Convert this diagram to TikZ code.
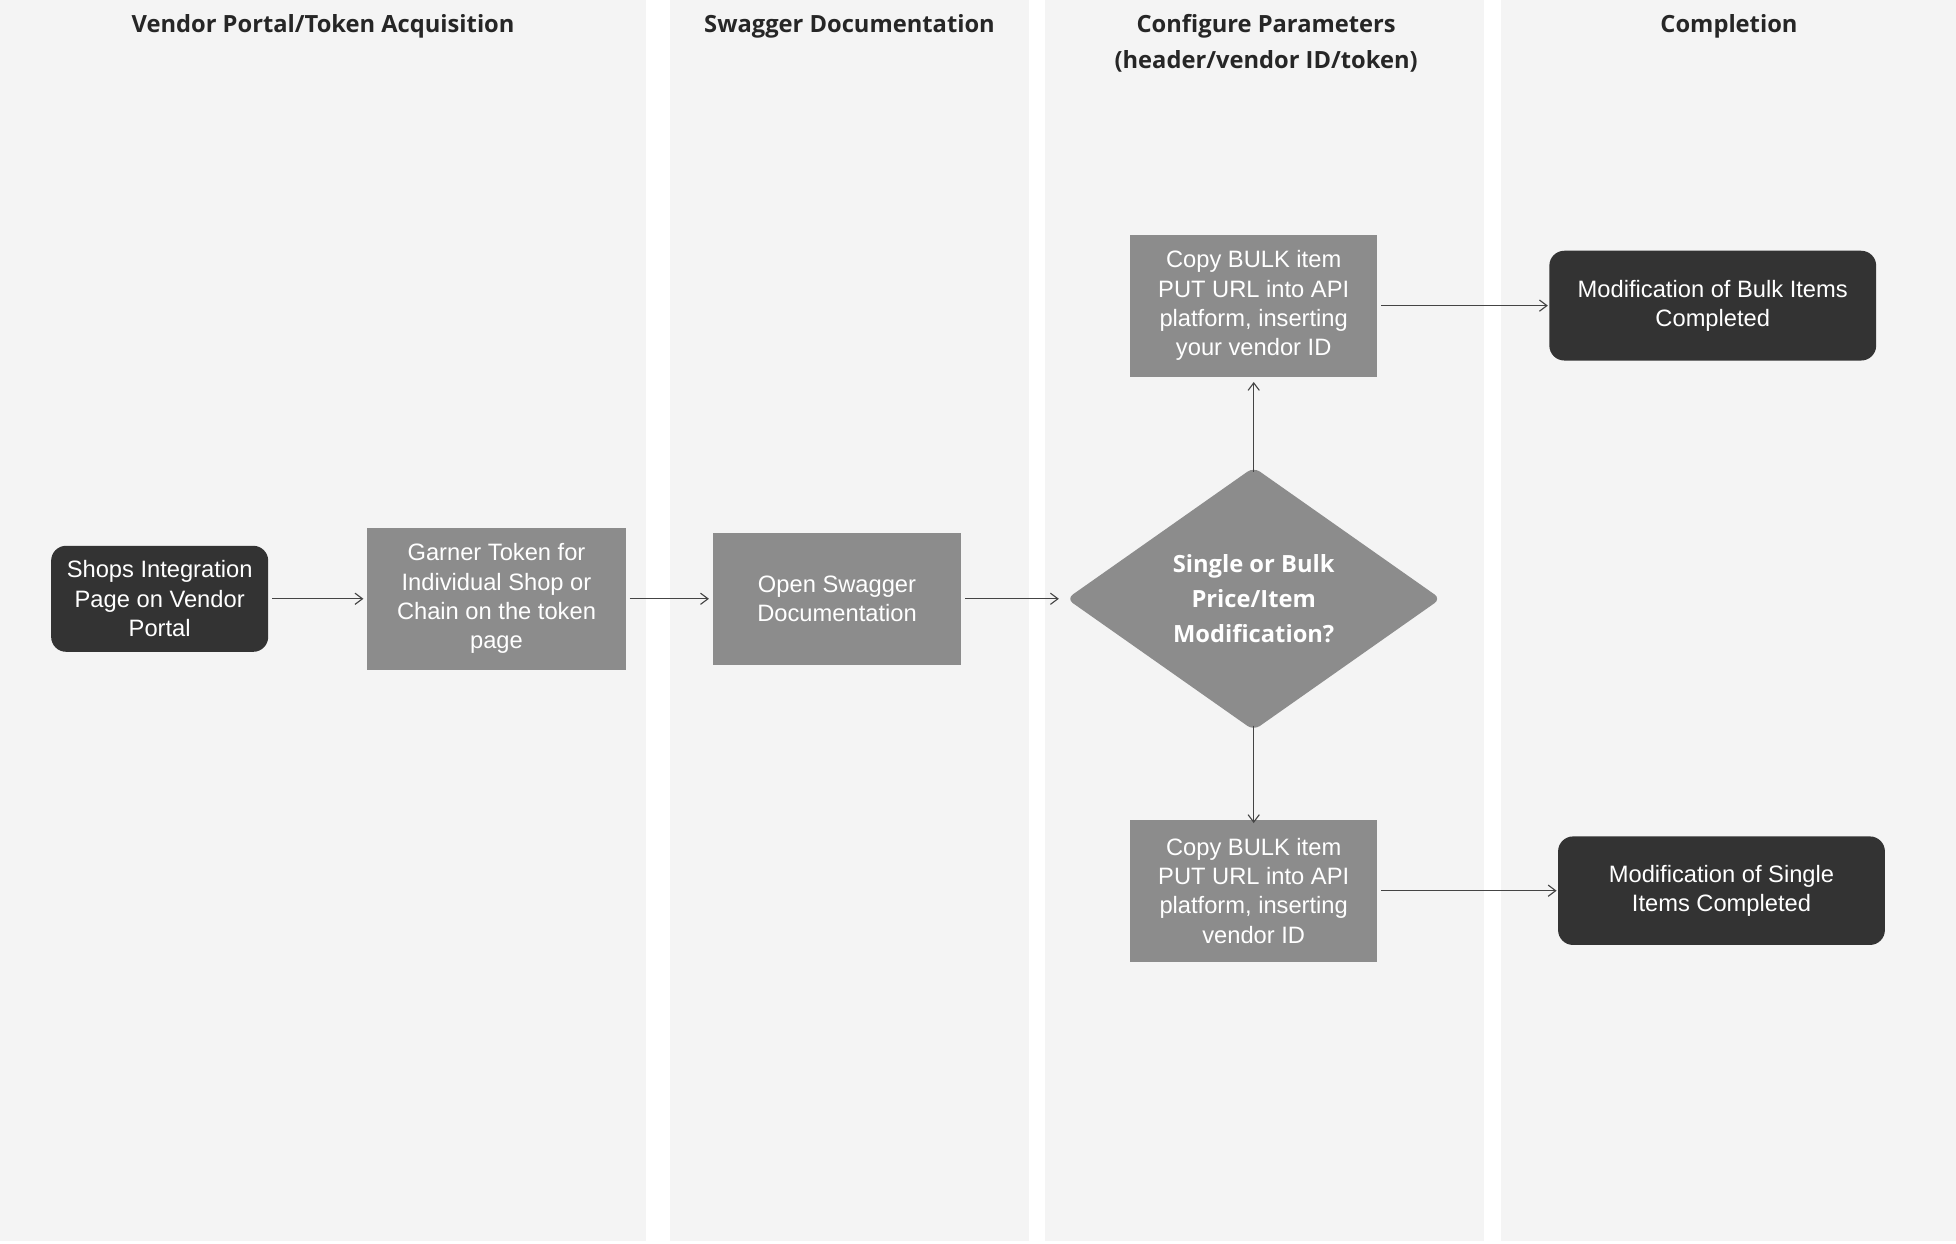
\documentclass[tikz,border=0pt]{standalone}
\usepackage{fontspec}
\setmainfont{Liberation Sans}
\newfontfamily\headfont{Open Sans}
\usetikzlibrary{shapes.geometric,arrows.meta}
\definecolor{lanebg}{HTML}{F4F4F4}
\definecolor{boxgray}{HTML}{8C8C8C}
\definecolor{darkbox}{HTML}{333333}
\definecolor{arrowc}{HTML}{444444}
\begin{document}
\begin{tikzpicture}[x=1pt,y=-1pt,
  lane/.style={fill=lanebg,draw=none},
  hdr/.style={font=\headfont\bfseries\fontsize{19}{29}\selectfont,text=black!85,align=center,anchor=north},
  txt/.style={font=\fontsize{19}{23.5}\selectfont,text=white,align=center,inner sep=0pt},
  dark/.style={txt,fill=darkbox,rounded corners=12pt},
  gbox/.style={txt,fill=boxgray},
  diam/.style={diamond,fill=boxgray,inner sep=0pt,text=white,align=center,font=\headfont\bfseries\fontsize{19}{28}\selectfont},
  conn/.style={draw=arrowc,line width=0.9pt,-{Straight Barb[length=6pt,width=9pt]}}]
\useasboundingbox (0,0) rectangle (1568,997);
\fill[white] (0,0) rectangle (1568,997);
\fill[lane] (0,0) rectangle (518,995);
\fill[lane] (537,0) rectangle (825,995);
\fill[lane] (838,0) rectangle (1190,995);
\fill[lane] (1203,0) rectangle (1568,995);
\node[hdr] (h1) at (259,8) {Vendor Portal/Token Acquisition};
\node[hdr] (h2) at (681,8) {Swagger Documentation};
\node[hdr] (h3) at (1015,8) {Configure Parameters\\(header/vendor ID/token)};
\node[hdr] (h4) at (1386,8) {Completion};

\node[dark,minimum width=174pt,minimum height=85pt] (shops) at (128,480) {Shops Integration\\Page on Vendor\\Portal};
\node[gbox,minimum width=207pt,minimum height=114pt] (garner) at (398,480) {Garner Token for\\Individual Shop or\\Chain on the token\\page};
\node[gbox,minimum width=199pt,minimum height=106pt] (swag) at (671,480) {Open Swagger\\Documentation};
\node[diam,minimum width=300pt,minimum height=211pt,rounded corners=6pt] (dec) at (1005,480) {Single or Bulk\\Price/Item\\Modification?};
\node[gbox,minimum width=198pt,minimum height=114pt] (ctop) at (1005,245) {Copy BULK item\\PUT URL into API\\platform, inserting\\your vendor ID};
\node[gbox,minimum width=198pt,minimum height=114pt] (cbot) at (1005,714) {Copy BULK item\\PUT URL into API\\platform, inserting\\vendor ID};
\node[dark,minimum width=262pt,minimum height=88pt] (mbulk) at (1373,245) {Modification of Bulk Items\\Completed};
\node[dark,minimum width=262pt,minimum height=87pt] (msing) at (1380,714) {Modification of Single\\Items Completed};

\draw[conn] ([xshift=3pt]shops.east) -- ([xshift=-3pt]garner.west);
\draw[conn] ([xshift=3pt]garner.east) -- ([xshift=-3pt]swag.west);
\draw[conn] ([xshift=3pt]swag.east) -- ([xshift=-6pt]dec.west);
\draw[conn] ([yshift=-4pt]dec.north) -- ([yshift=-4pt]ctop.south);
\draw[conn] ([yshift=4pt]dec.south) -- ([yshift=-3pt]cbot.north);
\draw[conn] ([xshift=3pt]ctop.east) -- ([xshift=-1pt]mbulk.west);
\draw[conn] ([xshift=3pt]cbot.east) -- ([xshift=-1pt]msing.west);
\end{tikzpicture}
\end{document}
